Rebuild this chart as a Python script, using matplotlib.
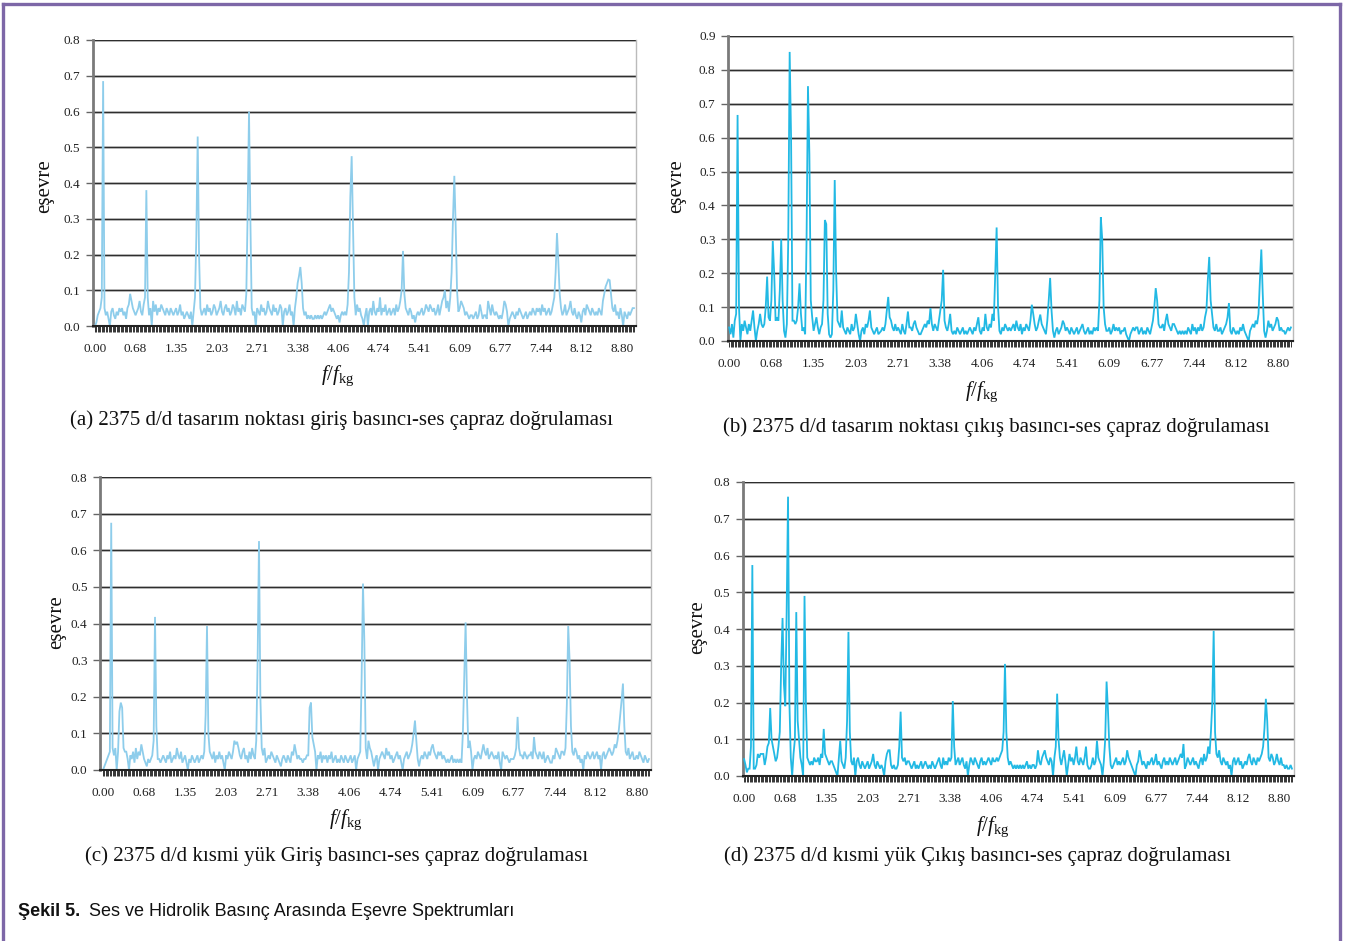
import numpy as np
import matplotlib
matplotlib.use("Agg")
import matplotlib.pyplot as plt
from matplotlib.lines import Line2D

# ---------------- data (coherence values, in hundredths) ----------------
step = 0.6766 / 30          # f/f_kg per sample
tick_every = 30
y_ticks_08 = [0.0, 0.1, 0.2, 0.3, 0.4, 0.5, 0.6, 0.7, 0.8]
y_ticks_09 = [0.0, 0.1, 0.2, 0.3, 0.4, 0.5, 0.6, 0.7, 0.8, 0.9]

coh_a = [
    0, 1, 3, 4, 5, 8, 68.5, 5, 3, 4, 2, 0, 4, 5, 3, 2, 4, 3, 5, 4,
    5, 3, 4, 2, 5, 6, 9, 7, 5, 4, 3, 4, 5, 7, 4, 3, 6, 8, 38, 8,
    3, 5, 0, 7, 4, 6, 3, 5, 4, 6, 5, 4, 3, 5, 4, 3, 5, 4, 3, 4,
    5, 3, 4, 6, 3, 4, 2, 3, 4, 3, 2, 4, 0, 4, 8, 25, 53, 20, 5, 3,
    4, 5, 3, 6, 4, 5, 3, 4, 6, 5, 3, 4, 5, 7, 4, 3, 5, 6, 4, 5,
    3, 4, 6, 5, 3, 7, 4, 5, 3, 6, 5, 4, 9, 32, 60, 30, 5, 3, 4, 0,
    5, 4, 3, 6, 4, 5, 3, 4, 7, 5, 4, 3, 6, 4, 5, 3, 4, 6, 5, 0,
    4, 5, 3, 4, 6, 3, 4, 0, 5, 8, 12, 14, 16.5, 12, 5, 3, 4, 2, 3, 2,
    3, 2, 2, 3, 2, 3, 2, 3, 2, 3, 4, 3, 4, 5, 6, 4, 5, 4, 3, 2,
    3, 1, 3, 4, 3, 4, 3, 6, 15, 36, 47.5, 28, 8, 3, 6, 4, 5, 3, 2, 0,
    3, 5, 0, 4, 5, 3, 7, 4, 3, 5, 4, 8, 3, 5, 4, 6, 3, 4, 5, 3,
    4, 5, 3, 6, 4, 5, 7, 10, 21, 9, 5, 4, 3, 5, 4, 2, 3, 1, 3, 4,
    3, 4, 5, 3, 4, 6, 5, 4, 6, 5, 4, 5, 3, 4, 6, 3, 5, 7, 8, 10,
    5, 7, 4, 8, 15, 30, 42, 28, 10, 4, 5, 7, 6, 5, 3, 4, 3, 2, 3, 3,
    2, 3, 4, 2, 3, 6, 4, 2, 3, 3, 2, 7, 5, 3, 6, 4, 3, 4, 3, 2,
    3, 2, 4, 7, 6, 4, 0, 2, 3, 4, 3, 2, 4, 3, 5, 4, 3, 2, 3, 4,
    2, 3, 4, 3, 5, 4, 3, 5, 4, 5, 3, 6, 4, 5, 3, 4, 5, 3, 4, 6,
    8, 15, 26, 18, 9, 5, 3, 4, 6, 3, 4, 5, 7, 4, 3, 5, 3, 2, 4, 3,
    1, 4, 5, 3, 6, 5, 4, 3, 5, 4, 3, 4, 3, 5, 4, 3, 7, 9, 11, 12,
    13, 12.8, 9, 5, 4, 6, 3, 4, 2, 5, 3, 0, 4, 3, 2, 4, 3, 4, 5, 5,
]

coh_b = [
    4, 2, 5, 1, 6, 8, 66.7, 10, 0, 5, 3, 6, 4, 2, 5, 3, 6, 9, 4, 0,
    3, 5, 8, 5, 4, 5, 10, 19, 7, 6, 12, 29.5, 20, 6, 7, 6, 15, 30, 12, 3,
    1, 5, 30, 85.3, 60, 6, 6, 5, 6, 10, 17, 8, 3, 4, 2, 30, 75.2, 55, 12, 7,
    3, 5, 7, 4, 2, 4, 5, 12, 35.7, 34.5, 8, 2, 1, 2, 15, 47.5, 20, 6, 5, 4,
    9, 4, 3, 2, 4, 3, 2, 5, 3, 4, 8, 5, 2, 0, 3, 4, 2, 5, 4, 6,
    9, 4, 3, 2, 3, 4, 2, 2.5, 3, 4, 3, 5, 9, 13, 7, 6, 4, 3, 5, 3,
    4, 3, 2, 5, 3, 2, 5, 8.7, 4, 4, 3, 5, 6, 4, 3, 2, 2, 3, 4, 5,
    4, 6, 5, 9.7, 5, 3, 5, 4, 3, 6, 9, 12, 21, 6, 4, 3, 5, 8, 3, 2,
    3, 2, 4, 3, 2, 3, 4, 2, 3, 2, 3, 4, 3, 2, 4, 3, 5, 7, 3, 2,
    4, 3, 8, 4, 3, 5, 4, 8, 6, 20, 33.5, 10, 3, 2, 4, 3, 5, 4, 3, 4,
    3, 4, 5, 3, 6, 4, 3, 5, 2, 4, 3, 5, 4, 3, 6, 10.7, 8, 5, 3, 4,
    6, 7.8, 5, 4, 3, 2, 6, 12, 18.6, 9, 3, 1, 3, 4, 2, 3, 4, 6, 5, 3,
    4, 3, 2, 4, 3, 2, 3, 4, 2, 3, 4, 5, 3, 2, 3, 4, 2, 3, 2, 4,
    3, 4, 3, 12, 36.5, 30, 10, 5, 3, 3, 4, 2, 3, 5, 3, 4, 3, 4, 2, 3,
    3, 4, 2, 1, 0, 2, 3, 4, 3, 4, 4, 2, 3, 4, 2, 3, 2, 4, 3, 2,
    4, 6, 10, 15.6, 12, 5, 4, 4, 5, 3, 6, 8, 5, 4, 3, 5, 5, 4, 3, 2,
    3, 2, 3, 2, 3, 2, 4, 3, 2, 5, 3, 4, 2, 4, 3, 5, 3, 4, 7, 9,
    18, 24.8, 12, 8, 4, 3, 5, 3, 3, 4, 2, 3, 4, 5, 7, 11.2, 3, 2, 4, 3,
    2, 3, 2, 4, 3, 5, 3, 2, 1, 0, 3, 4, 5, 4, 6, 5, 8, 18, 27, 14,
    3, 1, 3, 6, 4, 5, 3, 4, 5, 7, 6, 3, 4, 3, 3, 2, 3, 4, 3, 4,
]

coh_c = [
    0, 1, 2, 3, 4, 5, 67.5, 6, 4, 6, 0, 5, 16, 18.4, 17, 6, 5, 5, 3, 0,
    4, 3, 5, 2, 6, 3, 5, 4, 7, 5, 3, 2, 1, 3, 2, 3, 4, 8, 41.8, 12,
    3, 3, 2, 3, 4, 3, 2, 4, 3, 5, 2, 3, 4, 3, 6, 4, 3, 5, 2, 3,
    4, 2, 0, 3, 2, 4, 3, 2, 3, 4, 2, 3, 4, 3, 5, 15, 39.3, 10, 5, 4,
    3, 5, 2, 4, 3, 5, 3, 4, 2, 0, 4, 3, 5, 4, 3, 5, 8, 7, 7.7, 6,
    4, 3, 5, 6, 3, 4, 2, 5, 3, 6, 4, 3, 8, 30, 62.5, 20, 6, 4, 6, 2,
    3, 4, 3, 5, 4, 3, 2, 4, 3, 2, 1, 3, 4, 3, 2, 4, 3, 2, 5, 4,
    7, 5, 3, 4, 3, 3, 2, 3, 3, 4, 4, 17, 18.4, 9, 7, 5, 0, 4, 3, 5,
    2, 4, 3, 4, 2, 4, 3, 5, 2, 3, 4, 2, 3, 2, 4, 3, 2, 4, 3, 2,
    3, 4, 2, 3, 4, 0, 3, 4, 5, 25, 50.9, 35, 6, 3, 8, 6, 5, 3, 1, 3,
    4, 0, 3, 4, 5, 4, 3, 6, 4, 5, 3, 4, 2, 3, 4, 5, 3, 4, 2, 0,
    3, 4, 5, 3, 4, 5, 7, 10, 13.5, 8, 3, 1, 3, 4, 3, 5, 4, 3, 5, 4,
    6, 7, 5, 4, 3, 5, 4, 5, 3, 4, 3, 2, 3, 2, 3, 4, 2, 3, 2, 3,
    2, 3, 2, 10, 25, 40.3, 20, 6, 8, 5, 0, 3, 4, 3, 5, 4, 3, 5, 7, 5,
    4, 6, 3, 4, 5, 4, 3, 4, 3, 5, 2, 0, 5, 4, 3, 4, 3, 2, 3, 3,
    3, 4, 6, 14.5, 6, 4, 4, 3, 5, 4, 3, 4, 4, 5, 3, 9, 5, 4, 3, 5,
    4, 3, 5, 2, 3, 4, 3, 2, 2, 4, 3, 6, 5, 4, 3, 5, 5, 4, 6, 18,
    39.3, 30, 12, 5, 4, 6, 5, 3, 4, 2, 3, 0, 4, 3, 5, 4, 3, 4, 5, 3,
    4, 5, 3, 4, 0, 4, 5, 3, 4, 5, 6, 5, 4, 5, 7, 6, 8, 11, 15, 19,
    23.6, 12, 5, 4, 6, 3, 4, 5, 3, 3, 4, 3, 5, 4, 3, 2, 4, 3, 2, 3,
]

coh_d = [
    4.6, 3, 1, 2, 2, 8, 57.4, 2, 2, 3, 6, 5, 6, 6, 6, 3, 5, 8, 9, 18.5,
    10, 8, 6, 4, 5, 8, 12, 30, 43, 25, 19, 45, 76, 20, 5, 0, 6, 10, 44.6, 15,
    10, 5, 3, 0, 49, 20, 5, 4, 3, 4, 3, 5, 4, 4, 5, 3, 6, 5, 12.8, 6,
    5, 4, 3, 4, 4, 3, 2, 1, 0, 5, 9.6, 4, 3, 2, 5, 15, 39.2, 12, 4, 3,
    5, 0, 4, 5, 3, 2, 4, 3, 2, 3, 4, 2, 3, 4, 6, 3, 2, 4, 3, 2,
    3, 2, 0, 4, 6, 7, 7, 3, 2, 3, 2, 2, 3, 8, 17.5, 5, 4, 5, 3, 4,
    4, 3, 2, 3, 4, 2, 3, 2, 3, 4, 2, 3, 4, 3, 2, 3, 2, 4, 3, 2,
    3, 4, 5, 3, 2, 5, 3, 4, 3, 5, 4, 5, 20.4, 8, 3, 4, 5, 3, 4, 5,
    3, 2, 4, 0, 3, 5, 4, 3, 5, 4, 3, 2, 4, 5, 3, 4, 3, 4, 5, 4,
    3, 5, 4, 4, 5, 4, 5, 6, 7, 12, 30.5, 12, 5, 3, 4, 3, 2, 3, 2, 3,
    2, 3, 2, 3, 2, 3, 4, 2, 3, 2, 3, 3, 2, 3, 7, 4, 3, 5, 6, 7,
    5, 4, 3, 5, 4, 0, 5, 8, 22.4, 10, 5, 3, 5, 7, 4, 0, 3, 6, 4, 5,
    3, 5, 8, 4, 3, 5, 4, 3, 5, 8, 3, 2, 2, 3, 5, 3, 4, 9.6, 5, 4,
    3, 0, 4, 10, 25.7, 18, 8, 3, 2, 3, 4, 5, 3, 4, 3, 4, 5, 3, 4, 7,
    5, 4, 3, 2, 1, 0, 3, 4, 7, 5, 3, 4, 3, 2, 4, 3, 4, 5, 3, 4,
    6, 3, 4, 3, 2, 4, 5, 3, 4, 3, 5, 4, 3, 4, 5, 3, 4, 5, 6, 5,
    8.7, 2, 3, 5, 4, 3, 4, 5, 3, 4, 3, 2, 4, 5, 3, 6, 4, 5, 8, 6,
    12, 20, 39.5, 12, 6, 5, 7, 4, 3, 5, 4, 3, 4, 2, 3, 0, 4, 5, 3, 4,
    5, 3, 4, 2, 3, 4, 3, 5, 6, 4, 3, 5, 4, 3, 5, 4, 5, 6, 8, 13,
    21, 15, 5, 4, 6, 5, 3, 4, 6, 4, 3, 5, 3, 3, 2, 3, 2, 2, 3, 2,
]

captions = [
    "(a) 2375 d/d tasarım noktası giriş basıncı-ses çapraz doğrulaması",
    "(b) 2375 d/d tasarım noktası çıkış basıncı-ses çapraz doğrulaması",
    "(c) 2375 d/d kısmi yük Giriş basıncı-ses çapraz doğrulaması",
    "(d) 2375 d/d kısmi yük Çıkış basıncı-ses çapraz doğrulaması",
]
y_label = "eşevre"
x_label = r"$f/f_{\mathrm{kg}}$"
fig_caption_bold = "Şekil 5."
fig_caption_text = "Ses ve Hidrolik Basınç Arasında Eşevre Spektrumları"

# ---------------- style ----------------
plt.rcParams["font.family"] = ["Liberation Serif", "DejaVu Serif"]
plt.rcParams["mathtext.fontset"] = "custom"
plt.rcParams["mathtext.rm"] = "Liberation Serif"
plt.rcParams["mathtext.it"] = "Liberation Serif:italic"

W, H = 1345, 941
fig = plt.figure(figsize=(W / 100, H / 100), dpi=100)


def fx(x):
    return x / W


def fy(y):
    return 1 - y / H


light_blue = "#8ecdeb"
cyan = "#22b9e4"

panels = [
    dict(data=coh_a, color=light_blue, box=(93, 40, 636, 326), ymax=0.8, yt=y_ticks_08, xl=-1.5,
         ylab=(45, 186), xlab=(338, 376), cap=(341, 420)),
    dict(data=coh_b, color=cyan, box=(728, 36, 1293, 341), ymax=0.9, yt=y_ticks_09, xl=-0.8,
         ylab=(677, 186), xlab=(982, 392), cap=(996, 427)),
    dict(data=coh_c, color=light_blue, box=(100, 477, 651, 770), ymax=0.8, yt=y_ticks_08, xl=-2.2,
         ylab=(57, 622), xlab=(346, 820), cap=(337, 856)),
    dict(data=coh_d, color=cyan, box=(743, 482, 1294, 776), ymax=0.8, yt=y_ticks_08, xl=-0.8,
         ylab=(698, 627), xlab=(993, 827), cap=(977, 856)),
]

for p, cap in zip(panels, captions):
    l, t, r, b = p["box"]
    ax = fig.add_axes([fx(l), fy(b), fx(r) - fx(l), fy(t) - fy(b)])
    vals = np.array(p["data"], dtype=float) / 100.0
    n = len(vals)
    idx = np.arange(n)
    ax.plot(idx, vals, color=p["color"], lw=1.3, solid_joinstyle="miter", zorder=3)
    ax.set_xlim(p["xl"], 400.5)
    ax.set_ylim(0, p["ymax"])

    # grid lines
    for yv in p["yt"][1:]:
        ax.axhline(yv, color="#b5b5b5", lw=1.8, zorder=1)
        ax.axhline(yv, color="#2e2e2e", lw=0.9, zorder=1.5)

    ax.set_yticks(p["yt"])
    ax.set_yticklabels([f"{v:.1f}" for v in p["yt"]])
    major = np.arange(0, n, tick_every)
    ax.set_xticks(major)
    ax.set_xticklabels([f"{i * step:.2f}" for i in major])
    ax.set_xticks(idx, minor=True)

    ax.tick_params(axis="y", direction="out", length=5, width=1.0, color="#666666",
                   labelsize=9.5, pad=4, labelcolor="#222222")
    ax.tick_params(axis="x", which="both", direction="out", length=4, width=0.7,
                   color="#333333", labelsize=9.5, pad=8, labelcolor="#222222")

    ax.spines["top"].set_visible(False)
    ax.spines["right"].set_color("#bbbbbb")
    ax.spines["right"].set_linewidth(1.0)
    ax.spines["left"].set_color("#7a7a7a")
    ax.spines["left"].set_linewidth(2.0)
    ax.spines["bottom"].set_color("#222222")
    ax.spines["bottom"].set_linewidth(1.5)
    ax.spines["bottom"].set_zorder(4)

    fig.text(fx(p["ylab"][0]), fy(p["ylab"][1]), y_label, rotation=90,
             ha="center", va="center", fontsize=15, color="#111111")
    fig.text(fx(p["xlab"][0]), fy(p["xlab"][1]), x_label,
             ha="center", va="center", fontsize=15, color="#111111")
    fig.text(fx(p["cap"][0]), fy(p["cap"][1]), cap,
             ha="center", va="center", fontsize=15, color="#111111")

# figure caption
cap_family = ["Liberation Sans Narrow", "Liberation Sans", "DejaVu Sans"]
t1 = fig.text(fx(18), fy(912), fig_caption_bold, ha="left", va="center",
              fontsize=13, fontweight="bold", family=cap_family, color="#111111")
fig.canvas.draw()
bb = t1.get_window_extent()
fig.text((bb.x1 + 9) / W, fy(912), fig_caption_text, ha="left", va="center",
         fontsize=13, family=cap_family, color="#111111")

# purple frame (left, top, right)
frame_c = "#7d67a7"
for xs, ys in [([3.5, 3.5], [941, 3.5]), ([3.5, 1339.5], [3.5, 3.5]), ([1339.5, 1339.5], [3.5, 941])]:
    fig.add_artist(Line2D([fx(v) for v in xs], [fy(v) for v in ys], color=frame_c, lw=2.4,
                          transform=fig.transFigure, solid_capstyle="projecting"))

fig.savefig("out.png", dpi=100)
